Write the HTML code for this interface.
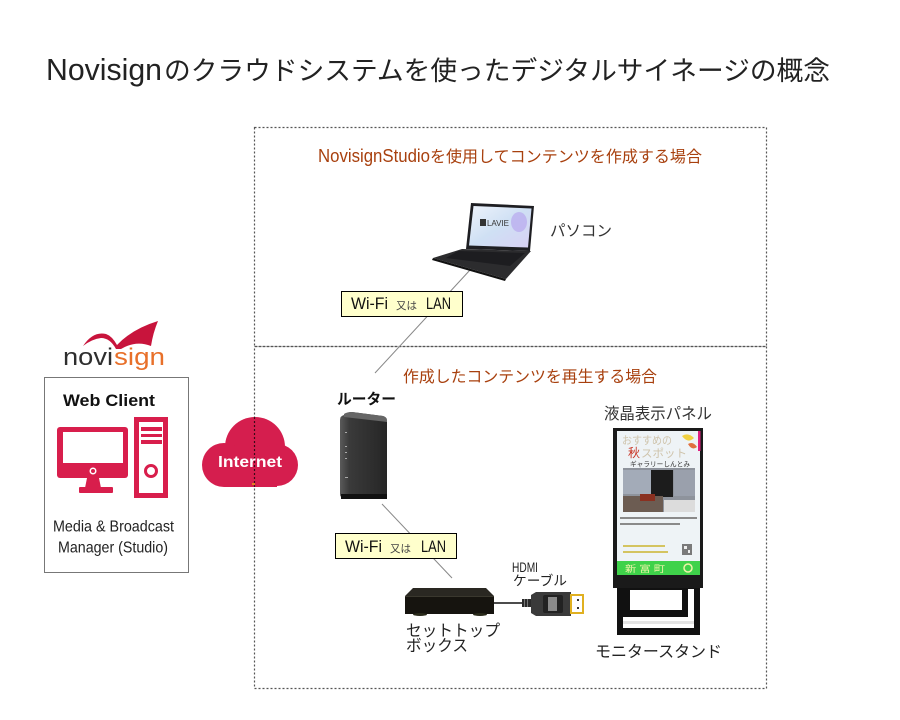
<!DOCTYPE html>
<html>
<head>
<meta charset="utf-8">
<style>
html,body{margin:0;padding:0;background:#fff;}
svg{display:block;}
.jp{font-family:"Liberation Sans","Noto Sans CJK JP",sans-serif;}
.lat{font-family:"Liberation Sans",sans-serif;}
</style>
</head>
<body>
<svg width="900" height="720" viewBox="0 0 900 720" xmlns="http://www.w3.org/2000/svg">
  <defs>
    <linearGradient id="scr" x1="0" y1="0" x2="1" y2="1">
      <stop offset="0" stop-color="#eef3fb"/>
      <stop offset="0.5" stop-color="#cfe0f4"/>
      <stop offset="1" stop-color="#d8d0f4"/>
    </linearGradient>
    <linearGradient id="rt" x1="0" y1="0" x2="1" y2="0">
      <stop offset="0" stop-color="#5a5a5a"/>
      <stop offset="0.2" stop-color="#3a3a3a"/>
      <stop offset="1" stop-color="#262626"/>
    </linearGradient>
  </defs>

  <!-- Title -->
  <text x="46" y="80" class="lat" font-size="31" fill="#222" textLength="116" lengthAdjust="spacingAndGlyphs">Novisign</text>
  <text x="164" y="80" class="jp" font-size="26.5" fill="#222" textLength="666" lengthAdjust="spacingAndGlyphs">のクラウドシステムを使ったデジタルサイネージの概念</text>

  <!-- Dashed boxes -->
  <g fill="none" stroke="#555" stroke-width="1.2" stroke-dasharray="2 2">
    <rect x="254.5" y="127.5" width="512" height="219"/>
    <rect x="254.5" y="346.5" width="512" height="342"/>
  </g>

  <!-- Upper section -->
  <text x="318" y="162" class="lat" font-size="18" fill="#a8400e" textLength="112" lengthAdjust="spacingAndGlyphs">NovisignStudio</text>
  <text x="430" y="162" class="jp" font-size="16" fill="#a8400e" textLength="272" lengthAdjust="spacingAndGlyphs">を使用してコンテンツを作成する場合</text>

  <!-- connector lines -->
  <line x1="470" y1="270" x2="375" y2="373" stroke="#888" stroke-width="1"/>
  <line x1="382" y1="504" x2="452" y2="578" stroke="#888" stroke-width="1"/>

  <!-- Laptop -->
  <polygon points="462,249 531,251 506,279 433,258" fill="#2c2c2e"/>
  <polygon points="458,251 525,253 510,266 446,258" fill="#1d1d20"/>
  <polygon points="433,258 506,279 505,281 432,260" fill="#111"/>
  <polygon points="471,203 534,206 530,251 466,249" fill="#1e1e22"/>
  <polygon points="473.5,206 531.5,208.5 528,247.5 469,245.5" fill="url(#scr)"/>
  <ellipse cx="519" cy="222" rx="8" ry="10" fill="#b8a8ee" opacity="0.7"/>
  <rect x="480" y="219" width="6" height="7" fill="#333"/>
  <text x="487" y="226" class="lat" font-size="8" fill="#333" textLength="22" lengthAdjust="spacingAndGlyphs">LAVIE</text>
  <text x="550" y="236" class="jp" font-size="15.5" fill="#333" textLength="62" lengthAdjust="spacingAndGlyphs">パソコン</text>

  <!-- Wi-Fi label 1 -->
  <rect x="341.5" y="291.5" width="121" height="25" fill="#ffffcc" stroke="#000" stroke-width="1"/>
  <text x="351" y="309" class="lat" font-size="16.5" fill="#111" textLength="37" lengthAdjust="spacingAndGlyphs">Wi-Fi</text>
  <text x="396" y="309" class="jp" font-size="10.5" fill="#444" textLength="21" lengthAdjust="spacingAndGlyphs">又は</text>
  <text x="426" y="309" class="lat" font-size="16.5" fill="#111" textLength="25" lengthAdjust="spacingAndGlyphs">LAN</text>

  <!-- Lower section -->
  <text x="403" y="382" class="jp" font-size="16" fill="#a8400e" textLength="254" lengthAdjust="spacingAndGlyphs">作成したコンテンツを再生する場合</text>

  <!-- Router -->
  <text x="337" y="404" class="jp" font-size="15" font-weight="bold" fill="#111" textLength="59" lengthAdjust="spacingAndGlyphs">ルーター</text>
  <path d="M344,415 Q346,412 352,412 L383,416 Q387,417 387,421 L387,497 L342,497 Q340,497 340,494 L340,420 Q340,416 344,415 Z" fill="url(#rt)"/>
  <path d="M344,414 Q347,412 352,412 L383,416 Q386,417 387,420 L387,422 L344,417 Z" fill="#666"/>
  <rect x="341" y="494" width="46" height="5" fill="#111"/>
  <g fill="#aaa">
    <rect x="345" y="432" width="2" height="1"/>
    <rect x="345" y="446" width="2" height="1"/>
    <rect x="345" y="452" width="2" height="1"/>
    <rect x="345" y="458" width="2" height="1"/>
    <rect x="345" y="477" width="3" height="1"/>
  </g>

  <!-- Wi-Fi label 2 -->
  <rect x="335.5" y="533.5" width="121" height="25" fill="#ffffcc" stroke="#000" stroke-width="1"/>
  <text x="345" y="552" class="lat" font-size="16.5" fill="#111" textLength="37" lengthAdjust="spacingAndGlyphs">Wi-Fi</text>
  <text x="390" y="552" class="jp" font-size="10.5" fill="#444" textLength="21" lengthAdjust="spacingAndGlyphs">又は</text>
  <text x="421" y="552" class="lat" font-size="16.5" fill="#111" textLength="25" lengthAdjust="spacingAndGlyphs">LAN</text>

  <!-- Set-top box -->
  <polygon points="413,588 486,588 494,596 405,596" fill="#2a2822"/>
  <rect x="405" y="596" width="89" height="18" fill="#16140f"/>
  <line x1="405" y1="596.5" x2="494" y2="596.5" stroke="#3a382e" stroke-width="1"/>
  <ellipse cx="420" cy="614.5" rx="7" ry="1.5" fill="#2a2a1a"/>
  <ellipse cx="480" cy="614.5" rx="7" ry="1.5" fill="#2a2a1a"/>
  <text x="406" y="636" class="jp" font-size="16" fill="#222" textLength="94" lengthAdjust="spacingAndGlyphs">セットトップ</text>
  <text x="406" y="651" class="jp" font-size="16" fill="#222" textLength="62" lengthAdjust="spacingAndGlyphs">ボックス</text>

  <!-- HDMI cable -->
  <line x1="494" y1="603" x2="523" y2="603" stroke="#111" stroke-width="1.5"/>
  <rect x="522" y="599" width="9" height="8" fill="#2a2a2a"/>
  <rect x="524" y="599" width="1" height="8" fill="#777"/>
  <rect x="527" y="599" width="1" height="8" fill="#777"/>
  <path d="M531,595 L536,592 L571,592 L571,616 L536,616 L531,613 Z" fill="#3a3a3a"/>
  <rect x="543" y="595" width="20" height="18" rx="2" fill="#222"/>
  <rect x="548" y="597" width="9" height="14" fill="#8a8a8a"/>
  <rect x="571" y="595" width="12" height="18" fill="#fff" stroke="#e0b020" stroke-width="2"/>
  <rect x="577" y="599" width="2" height="2" fill="#333"/>
  <rect x="577" y="607" width="2" height="2" fill="#333"/>
  <text x="512" y="572" class="lat" font-size="13.5" fill="#222" textLength="26" lengthAdjust="spacingAndGlyphs">HDMI</text>
  <text x="513" y="585.5" class="jp" font-size="13.5" fill="#222" textLength="54" lengthAdjust="spacingAndGlyphs">ケーブル</text>

  <!-- Display panel -->
  <text x="604" y="419" class="jp" font-size="16" fill="#333" textLength="108" lengthAdjust="spacingAndGlyphs">液晶表示パネル</text>
  <rect x="613" y="428" width="90" height="160" fill="#1a1a1a"/>
  <rect x="617" y="431" width="83" height="144" fill="#eef3f6"/>
  <rect x="698" y="431" width="2.5" height="20" fill="#e02080"/>
  <path d="M682,436 q6,-4 12,2 q-6,6 -12,-2 Z" fill="#f0d040"/>
  <path d="M688,444 q5,-3 9,3 q-5,4 -9,-3 Z" fill="#e07040"/>
  <text x="622" y="444" class="jp" font-size="11" fill="#cfc4ac" textLength="50" lengthAdjust="spacingAndGlyphs">おすすめの</text>
  <text x="628" y="457" class="jp" font-size="12" fill="#c83020">秋</text>
  <text x="641" y="457" class="jp" font-size="11" fill="#cfc4ac" textLength="46" lengthAdjust="spacingAndGlyphs">スポット</text>
  <text x="630" y="466.5" class="jp" font-size="7" fill="#333" textLength="60" lengthAdjust="spacingAndGlyphs">ギャラリーしんとみ</text>
  <rect x="623" y="468" width="72" height="44" fill="#8e939c"/>
  <rect x="623" y="470" width="28" height="24" fill="#a3abb8"/>
  <rect x="674" y="470" width="21" height="26" fill="#9aa0ac"/>
  <rect x="651" y="470" width="22" height="27" fill="#1c1c1c"/>
  <rect x="623" y="496" width="40" height="16" fill="#6c5c52"/>
  <rect x="640" y="494" width="15" height="7" fill="#8a3020"/>
  <rect x="664" y="500" width="31" height="12" fill="#dcdcdc"/>
  <rect x="620" y="517" width="77" height="2" fill="#8a8a8a"/>
  <rect x="620" y="523" width="60" height="2" fill="#8a8a8a"/>
  <rect x="623" y="545" width="42" height="2" fill="#d4c460"/>
  <rect x="623" y="551" width="45" height="2" fill="#d4c460"/>
  <rect x="682" y="544" width="10" height="11" fill="#7a7a7a"/>
  <rect x="684" y="546" width="3" height="3" fill="#eee"/>
  <rect x="688" y="550" width="2" height="3" fill="#eee"/>
  <rect x="617" y="561" width="83" height="14" fill="#3fd24a"/>
  <text x="625" y="572" class="jp" font-size="9" fill="#eef4a8" textLength="40" lengthAdjust="spacingAndGlyphs">新 富 町</text>
  <circle cx="688" cy="568" r="4" fill="none" stroke="#eef4a8" stroke-width="1.5"/>

  <!-- Stand -->
  <rect x="617" y="588" width="83" height="47" fill="#111"/>
  <rect x="630" y="590" width="52" height="20" fill="#fff"/>
  <rect x="688" y="589" width="6" height="28" fill="#fff"/>
  <rect x="623" y="617" width="71" height="11" fill="#fff"/>
  <rect x="623" y="621" width="71" height="3" fill="#e4e4e4"/>
  <text x="595" y="657" class="jp" font-size="16" fill="#222" textLength="127" lengthAdjust="spacingAndGlyphs">モニタースタンド</text>

  <!-- Novisign logo -->
  <path d="M83,346 Q93,331 106,334 Q112,336 117,345 Q132,329 158,321 Q153,333 151,346 Q136,340 121,349 L116,349 Q110,338 101,338 Q92,339 83,346 Z" fill="#c8143c"/>
  <text x="63" y="365" class="lat" font-size="24" fill="#2e2e2e" textLength="50" lengthAdjust="spacingAndGlyphs">novi</text>
  <text x="114" y="365" class="lat" font-size="24" fill="#e8702a" textLength="51" lengthAdjust="spacingAndGlyphs">sign</text>

  <!-- Web Client box -->
  <rect x="44.5" y="377.5" width="144" height="195" fill="#fff" stroke="#777" stroke-width="1"/>
  <text x="63" y="406" class="lat" font-size="17" font-weight="bold" fill="#111" textLength="92" lengthAdjust="spacingAndGlyphs">Web Client</text>
  <!-- monitor icon -->
  <rect x="57" y="427" width="71" height="51" rx="3" fill="#d81e4c"/>
  <rect x="63" y="432" width="60" height="31" fill="#fff"/>
  <circle cx="93" cy="471" r="3.5" fill="#fff"/>
  <circle cx="93" cy="471" r="2" fill="#d81e4c"/>
  <polygon points="87,478 99,478 101,488 85,488" fill="#d81e4c"/>
  <rect x="79" y="487" width="34" height="6" rx="1" fill="#d81e4c"/>
  <!-- tower icon -->
  <rect x="136.5" y="419.5" width="29" height="76" fill="#fff" stroke="#d81e4c" stroke-width="5"/>
  <rect x="141" y="427" width="21" height="4" fill="#d81e4c"/>
  <rect x="141" y="434" width="21" height="3" fill="#d81e4c"/>
  <rect x="141" y="440" width="21" height="4" fill="#d81e4c"/>
  <circle cx="151" cy="471" r="5.5" fill="none" stroke="#d81e4c" stroke-width="3"/>
  <text x="53" y="531.5" class="lat" font-size="16" fill="#222" textLength="121" lengthAdjust="spacingAndGlyphs">Media &amp; Broadcast</text>
  <text x="58" y="552.5" class="lat" font-size="16" fill="#222" textLength="110" lengthAdjust="spacingAndGlyphs">Manager (Studio)</text>

  <!-- Cloud -->
  <g fill="#d51e4e">
    <circle cx="255" cy="447" r="30"/>
    <circle cx="224" cy="465" r="22"/>
    <circle cx="277" cy="465" r="21"/>
    <rect x="224" y="458" width="53" height="29"/>
  </g>
  <line x1="254.5" y1="417" x2="254.5" y2="487" stroke="#3a0a18" stroke-width="1.2" stroke-dasharray="2 2"/>
  <text x="218" y="467" class="lat" font-size="16" font-weight="bold" fill="#fff" textLength="64" lengthAdjust="spacingAndGlyphs">Internet</text>
  <rect x="252" y="483" width="3" height="2" fill="#e08020"/>
</svg>
</body>
</html>
